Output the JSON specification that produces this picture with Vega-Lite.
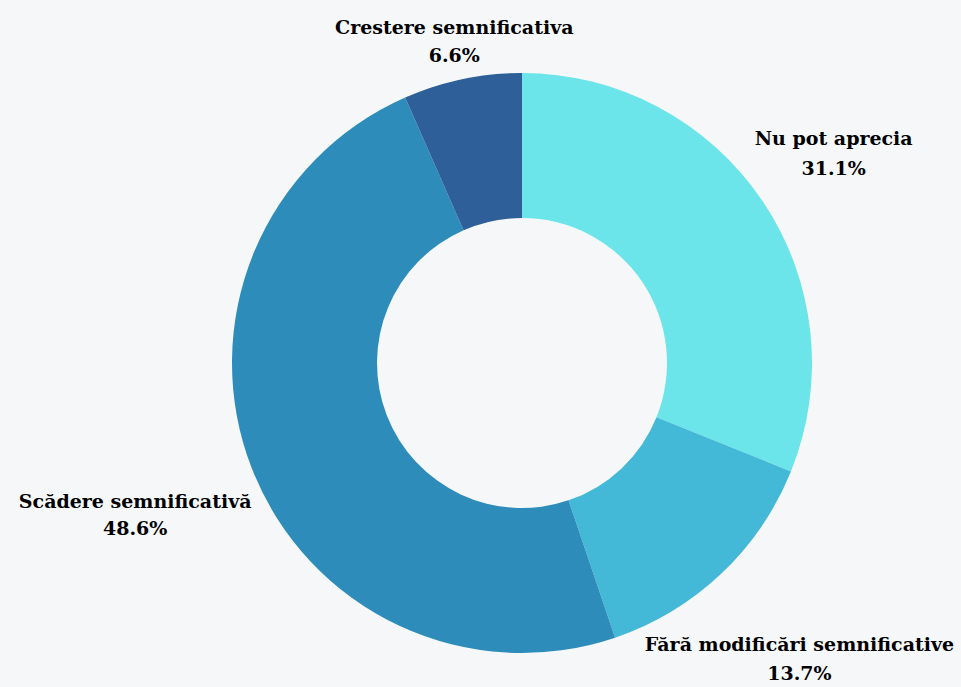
{
  "$schema": "https://vega.github.io/schema/vega-lite/v6.json",
  "width": 878,
  "height": 648,
  "autosize": {"type": "none"},
  "padding": {"left": 83, "top": 39, "right": 0, "bottom": 0},
  "background": "#f5f7f9",
  "data": {
    "values": [
      {"category": "Nu pot aprecia", "pct": 31.1, "rank": 1},
      {"category": "Fără modificări semnificative", "pct": 13.7, "rank": 2},
      {"category": "Scădere semnificativă", "pct": 48.6, "rank": 3},
      {"category": "Crestere semnificativa", "pct": 6.6, "rank": 4}
    ]
  },
  "transform": [
    {"calculate": "[datum.category, format(datum.pct, '.1f') + '%']", "as": "label"}
  ],
  "encoding": {
    "theta": {"field": "pct", "type": "quantitative", "stack": true},
    "order": {"field": "rank", "type": "quantitative"},
    "color": {
      "field": "category",
      "type": "nominal",
      "scale": {
        "domain": ["Nu pot aprecia", "Fără modificări semnificative", "Scădere semnificativă", "Crestere semnificativa"],
        "range": ["#6be5e9", "#44b8d7", "#2e8cba", "#2e5f98"]
      },
      "legend": null
    }
  },
  "layer": [
    {
      "mark": {"type": "arc", "outerRadius": 290, "innerRadius": 145}
    },
    {
      "mark": {"type": "text", "radius": 329, "dy": -13, "font": "DejaVu Serif", "fontWeight": "bold", "fontSize": 19, "lineHeight": 28, "align": "center", "baseline": "middle"},
      "encoding": {"text": {"condition": {"test": "datum.rank == 4", "field": "label"}, "value": ""}, "color": {"value": "#000000"}}
    },
    {
      "mark": {"type": "text", "radius": 376, "dy": -14, "font": "DejaVu Serif", "fontWeight": "bold", "fontSize": 19, "lineHeight": 30, "align": "center", "baseline": "middle"},
      "encoding": {"text": {"condition": {"test": "datum.rank == 1", "field": "label"}, "value": ""}, "color": {"value": "#000000"}}
    },
    {
      "mark": {"type": "text", "radius": 404, "dy": -12, "font": "DejaVu Serif", "fontWeight": "bold", "fontSize": 19, "lineHeight": 29, "align": "center", "baseline": "middle"},
      "encoding": {"text": {"condition": {"test": "datum.rank == 2", "field": "label"}, "value": ""}, "color": {"value": "#000000"}}
    },
    {
      "mark": {"type": "text", "radius": 415, "dy": -11, "font": "DejaVu Serif", "fontWeight": "bold", "fontSize": 19, "lineHeight": 27, "align": "center", "baseline": "middle"},
      "encoding": {"text": {"condition": {"test": "datum.rank == 3", "field": "label"}, "value": ""}, "color": {"value": "#000000"}}
    }
  ],
  "config": {"view": {"stroke": null}}
}
